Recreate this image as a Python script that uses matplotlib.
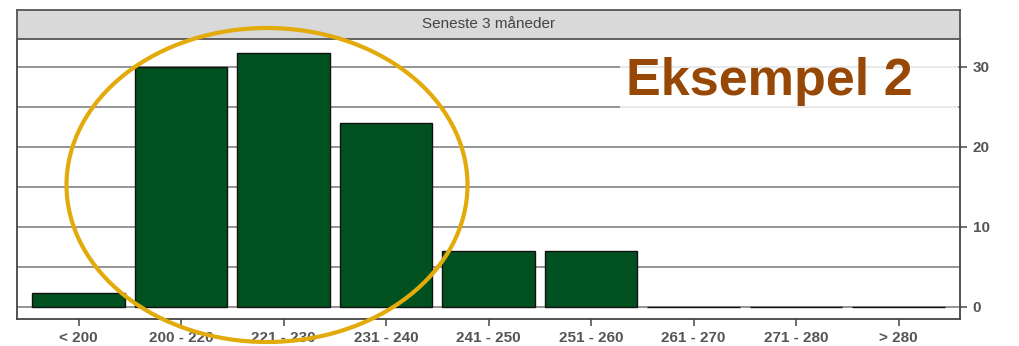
import matplotlib.pyplot as plt
from matplotlib.patches import Ellipse, Rectangle

# Categories and values (percent of measurements)
categories = ['< 200', '200 - 220', '221 - 230', '231 - 240', '241 - 250',
              '251 - 260', '261 - 270', '271 - 280', '> 280']
values = [1.8, 30, 31.8, 23, 7, 7, 0, 0, 0]
y_ticks = [0, 10, 20, 30]
minor_ticks = [5, 15, 25]

W, H = 1020, 346
fig = plt.figure(figsize=(W / 100, H / 100), dpi=100)
plt.rcParams['font.family'] = ['Liberation Sans', 'DejaVu Sans']

# main panel
ax = fig.add_axes([17 / W, 1 - 319 / H, (960 - 17) / W, (319 - 39) / H])
x = range(len(categories))
ax.bar(x, values, width=0.9, color='#01501f', edgecolor='#111111', linewidth=1.0, zorder=3)
ax.set_xlim(-0.6, 8.6)
ax.set_ylim(-1.5, 33.5)

for v in y_ticks + minor_ticks:
    ax.axhline(v, color='#8c8c8c', lw=1.3, zorder=1)

ax.set_xticks(list(x))
ax.set_xticklabels(categories, fontsize=11, fontweight='bold', color='#555555')
ax.yaxis.tick_right()
ax.set_yticks(y_ticks)
ax.set_yticklabels([str(t) for t in y_ticks], fontsize=11, fontweight='bold', color='#555555')
ax.tick_params(axis='both', color='#555555', length=5, width=1.2, pad=4)
for s in ['left', 'right', 'bottom']:
    ax.spines[s].set_color('#444444')
    ax.spines[s].set_linewidth(1.3)
ax.spines['top'].set_visible(False)

# strip header
sx = fig.add_axes([17 / W, 1 - 39 / H, (960 - 17) / W, (39 - 10) / H])
sx.set_facecolor('#d9d9d9')
sx.set_xticks([])
sx.set_yticks([])
for s in sx.spines.values():
    s.set_color('#555555')
    s.set_linewidth(1.3)
sx.text(0.5, 0.5, 'Seneste 3 måneder', ha='center', va='center', fontsize=11, color='#444444')

# white box behind the annotation text
fig.add_artist(Rectangle((620 / W, 1 - 112 / H), (958 - 620) / W, (112 - 41) / H,
                         transform=fig.transFigure, facecolor='white', alpha=0.8,
                         edgecolor='none', zorder=2))
fig.text(769 / W, 1 - 95 / H, 'Eksempel 2', ha='center', va='baseline',
         fontsize=37.5, fontweight='bold', color='#974806', zorder=4)

# highlight ellipse
fig.add_artist(Ellipse((267 / W, 1 - 185 / H), 401 / W, 314 / H, transform=fig.transFigure,
                       fill=False, edgecolor='#e2aa0a', linewidth=3, zorder=5, clip_on=False))

fig.savefig('out.png', dpi=100)
